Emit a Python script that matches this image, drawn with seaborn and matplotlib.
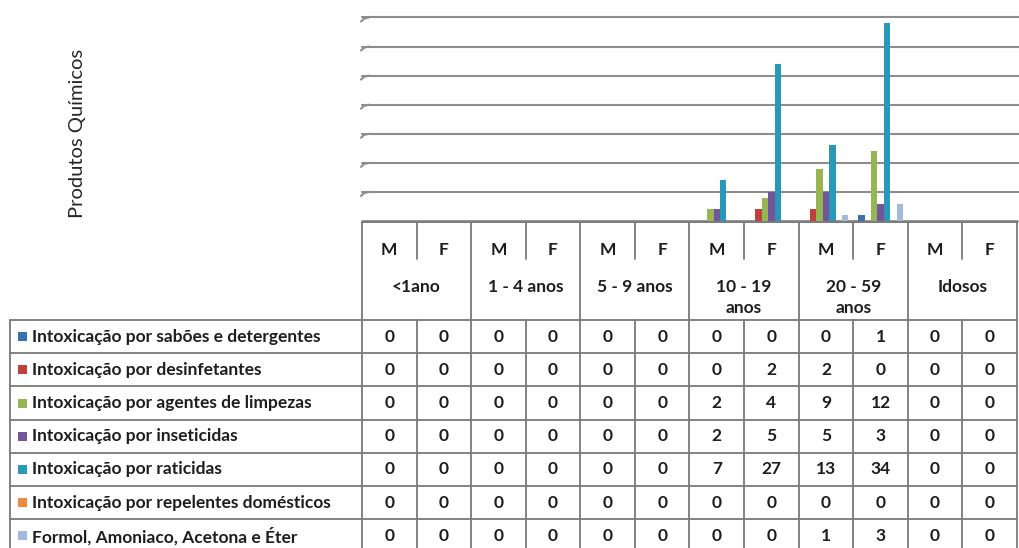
import matplotlib
matplotlib.use("Agg")
import matplotlib.pyplot as plt
import seaborn as sns
import pandas as pd
import numpy as np

# ---- data -------------------------------------------------------------
age_groups = ["<1ano", "1 - 4 anos", "5 - 9 anos", "10 - 19\nanos", "20 - 59\nanos", "Idosos"]
sexes = ["M", "F"]
series_names = [
    "Intoxicação por sabões e detergentes",
    "Intoxicação por desinfetantes",
    "Intoxicação por agentes de limpezas",
    "Intoxicação por inseticidas",
    "Intoxicação por raticidas",
    "Intoxicação por repelentes domésticos",
    "Formol, Amoniaco, Acetona e Éter",
]
saboes       = [0, 0, 0, 0, 0, 0, 0, 0, 0, 1, 0, 0]
desinfetant  = [0, 0, 0, 0, 0, 0, 0, 2, 2, 0, 0, 0]
limpezas     = [0, 0, 0, 0, 0, 0, 2, 4, 9, 12, 0, 0]
inseticidas  = [0, 0, 0, 0, 0, 0, 2, 5, 5, 3, 0, 0]
raticidas    = [0, 0, 0, 0, 0, 0, 7, 27, 13, 34, 0, 0]
repelentes   = [0, 0, 0, 0, 0, 0, 0, 0, 0, 0, 0, 0]
formol       = [0, 0, 0, 0, 0, 0, 0, 0, 1, 3, 0, 0]
series_values = [saboes, desinfetant, limpezas, inseticidas, raticidas, repelentes, formol]
colors = ["#3A72AE", "#C0403C", "#96B553", "#74559A", "#2A99B8", "#F08A3C", "#A3B8DA"]
y_title = "Produtos Químicos"

# ---- long-form table for seaborn -----------------------------------------
col_keys = [f"{g}|{s}" for g in age_groups for s in sexes]
rows = []
for name, vals in zip(series_names, series_values):
    for key, v in zip(col_keys, vals):
        rows.append({"col": key, "serie": name, "valor": v})
df = pd.DataFrame(rows)

sns.set_theme(style="white")
FONT = ["Lato", "DejaVu Sans"]
plt.rcParams["font.family"] = FONT

W, H = 1020, 548
fig = plt.figure(figsize=(W / 100, H / 100), dpi=100)
fig.patch.set_facecolor("white")

# pixel layout
x_left, x_right = 362, 1017
y_floor = 221
n_cols = len(col_keys)
cw = (x_right - x_left) / n_cols
ymax = 38.0

ax = fig.add_axes([x_left / W, (H - y_floor) / H, (x_right - x_left) / W, y_floor / H])
sns.barplot(data=df, x="col", y="valor", hue="serie", order=col_keys,
            hue_order=series_names, palette=colors, width=0.82,
            linewidth=0, saturation=1, legend=False, ax=ax)
ax.set_xlim(-0.5, n_cols - 0.5)
ax.set_ylim(0, ymax)
grid_vals = [5, 10, 15, 20, 25, 30, 35]
ax.set_yticks(grid_vals)
ax.set_yticklabels([])
ax.set_xticks([])
ax.set_xlabel("")
ax.set_ylabel("")
for sp in ax.spines.values():
    sp.set_visible(False)
ax.set_facecolor("none")
for gv in grid_vals:
    ax.axhline(gv, xmin=0.0, xmax=1.01, color="#8d8d8d", lw=1.5, zorder=0, clip_on=False)
ax.axhline(0, color="#8d8d8d", lw=2.0, zorder=0.5, clip_on=False)

# ---- overlay in pixel coordinates: table, legend keys, title ---------------
ov = fig.add_axes([0, 0, 1, 1])
ov.set_xlim(0, W)
ov.set_ylim(H, 0)
ov.axis("off")
ov.set_facecolor("none")

def px_of(v):
    return y_floor - v * y_floor / ymax

# perspective curl at the left end of each gridline
for gv in grid_vals:
    yy = px_of(gv)
    ov.plot([361, 364, 369], [yy + 4, yy + 1.2, yy], color="#8d8d8d", lw=1.5,
            solid_capstyle="round")

line_kw = dict(color="#7a7a7a", lw=1.3)
tab_left = 10
head_top = 222
head_bot = 320
row_h = 33.2
n_rows = len(series_names)
table_bottom = head_bot + row_h * n_rows
col_edges = [x_left + i * cw for i in range(n_cols + 1)]

# header frame
ov.plot([x_left, x_right], [head_top, head_top], **line_kw)
for i, xe in enumerate(col_edges):
    if i % 2 == 0:
        ov.plot([xe, xe], [head_top, table_bottom], **line_kw)
    else:
        ov.plot([xe, xe], [head_top, 259], **line_kw)
        ov.plot([xe, xe], [head_bot, table_bottom], **line_kw)

# data rows
ov.plot([tab_left, tab_left], [head_bot, table_bottom], **line_kw)
for r in range(n_rows + 1):
    yy = head_bot + r * row_h
    ov.plot([tab_left, x_right], [yy, yy], **line_kw)

txt_kw = dict(family=FONT, fontweight="bold", color="#1e1e1e", fontsize=12.5)

# header text
for i in range(n_cols):
    xc = x_left + (i + 0.5) * cw
    ov.text(xc, 250, sexes[i % 2], ha="center", va="center", **txt_kw)
for g, label in enumerate(age_groups):
    xc = x_left + (2 * g + 1) * cw
    for k, part in enumerate(label.split("\n")):
        ov.text(xc, 287 + 21 * k, part, ha="center", va="center", **txt_kw)

# legend column and values
for r, (name, vals, c) in enumerate(zip(series_names, series_values, colors)):
    yc = head_bot + (r + 0.5) * row_h
    ov.add_patch(plt.Rectangle((18, yc - 4.5), 9, 9, color=c, lw=0))
    ov.text(32, yc, name, ha="left", va="center", family=FONT, fontweight="bold",
            color="#1e1e1e", fontsize=12.5)
    for i, v in enumerate(vals):
        xc = x_left + (i + 0.5) * cw
        ov.text(xc, yc, f"{v}", ha="center", va="center", **txt_kw)

# axis title
ov.text(78, 133, y_title, rotation=90, ha="center", va="center",
        family=FONT, fontsize=14.5, color="#262626")

fig.savefig("out.png", dpi=100, facecolor="white")
